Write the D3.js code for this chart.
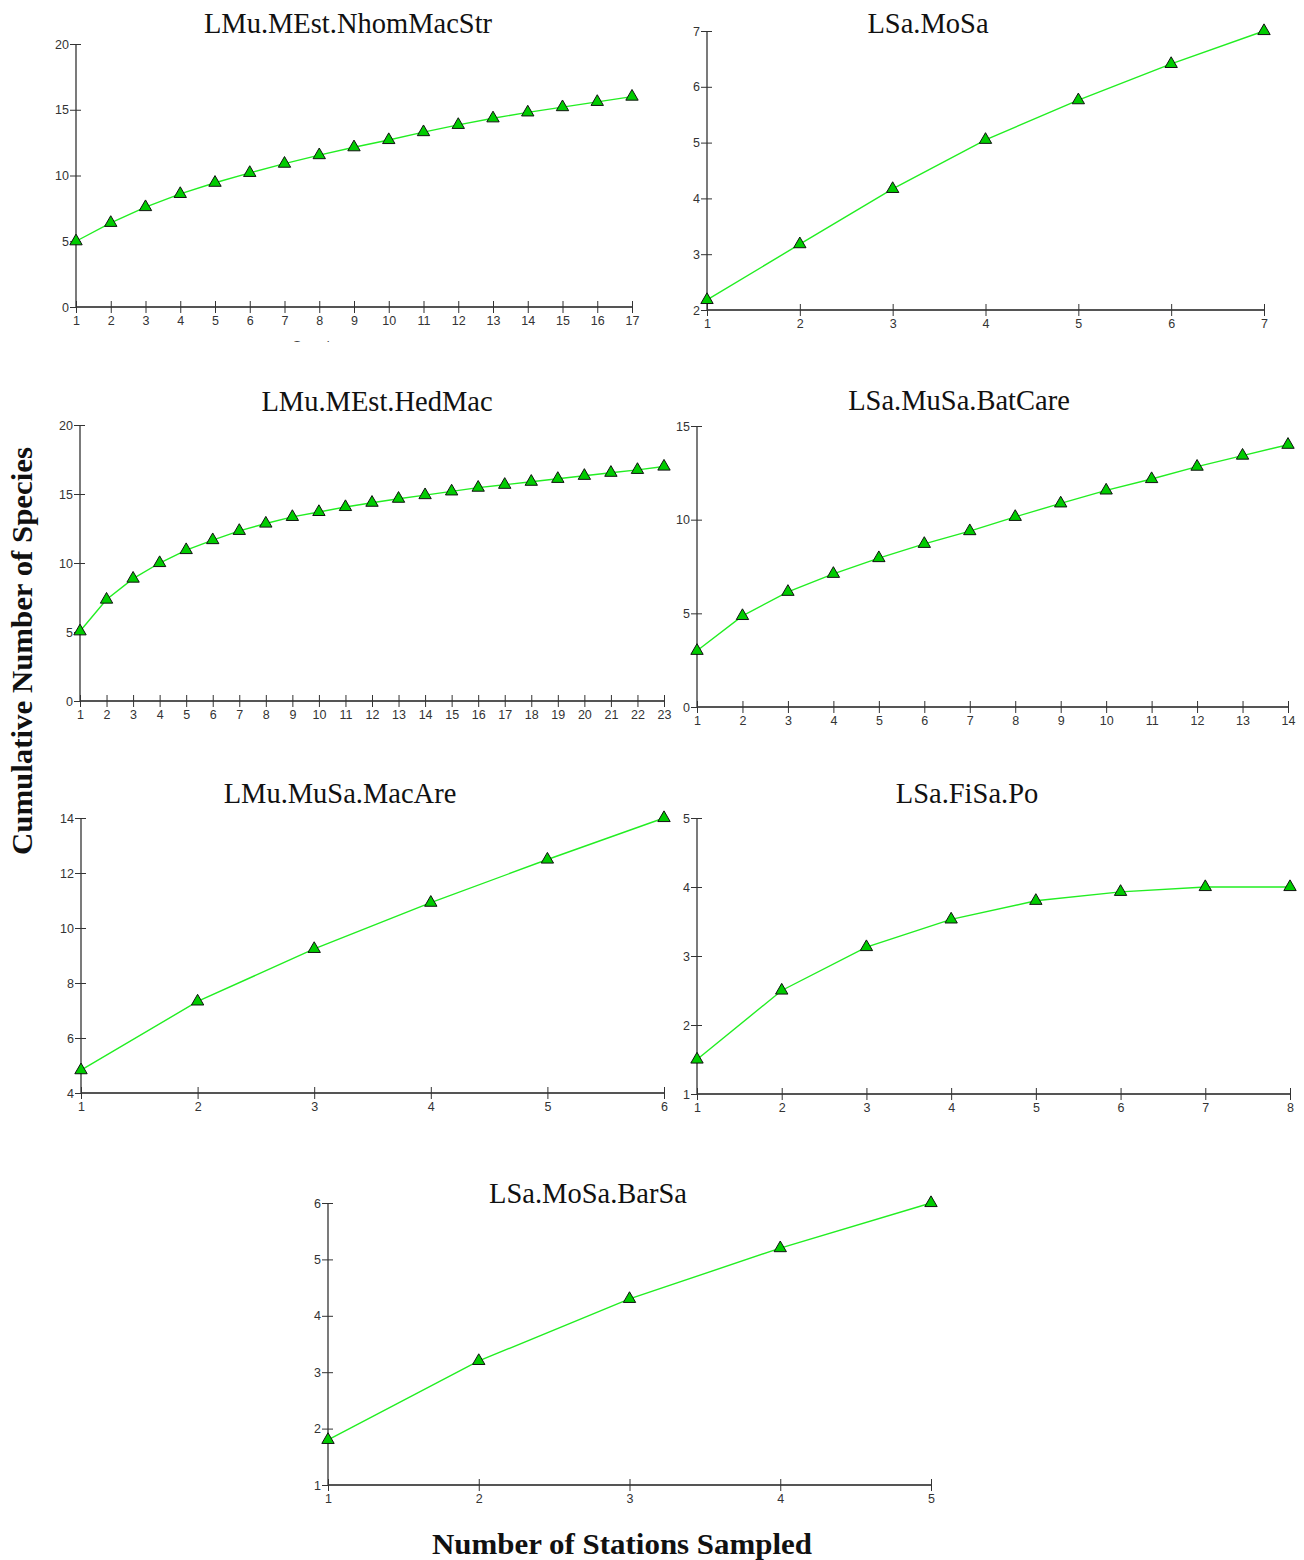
<!DOCTYPE html>
<html><head><meta charset="utf-8">
<script src="https://cdn.jsdelivr.net/npm/d3@7"></script>
<style>
html,body{margin:0;padding:0;background:#fff;}
svg{display:block;}
.tick text{font-family:"Liberation Sans",Arial,sans-serif;font-size:12.5px;fill:#333;}
</style></head>
<body>
<svg id="chart" width="1304" height="1560"></svg>
<script>
// ---- data ----
const titles = ["LMu.MEst.NhomMacStr","LSa.MoSa","LMu.MEst.HedMac","LSa.MuSa.BatCare","LMu.MuSa.MacAre","LSa.FiSa.Po","LSa.MoSa.BarSa"];
const seriesNhomMacStr = [5.0,6.4,7.6,8.6,9.45,10.2,10.9,11.55,12.15,12.7,13.3,13.85,14.35,14.8,15.2,15.6,16.0];
const seriesMoSa = [2.18,3.18,4.17,5.05,5.76,6.41,7.0];
const seriesHedMac = [5.05,7.35,8.87,10.0,10.94,11.66,12.33,12.86,13.34,13.7,14.06,14.37,14.66,14.92,15.19,15.46,15.67,15.89,16.1,16.32,16.54,16.75,16.99];
const seriesBatCare = [3.0,4.86,6.15,7.11,7.95,8.71,9.39,10.15,10.87,11.56,12.17,12.83,13.42,14.0];
const seriesMacAre = [4.83,7.33,9.24,10.92,12.49,14.0];
const seriesFiSaPo = [1.5,2.5,3.13,3.53,3.8,3.93,4.0,4.0];
const seriesBarSa = [1.8,3.2,4.3,5.2,6.0];
const yTicks1 = [0,5,10,15,20];
const yTicks2 = [2,3,4,5,6,7];
const yTicks3 = [0,5,10,15,20];
const yTicks4 = [0,5,10,15];
const yTicks5 = [4,6,8,10,12,14];
const yTicks6 = [1,2,3,4,5];
const yTicks7 = [1,2,3,4,5,6];
const yDomains = [[0,20],[2,7],[0,20],[0,15],[4,14],[1,5],[1,6]];
const xAxisTitle = "Number of Stations Sampled";
const yAxisTitle = "Cumulative Number of Species";

// ---- layout ----
const layout = [
  {l:76, r:632, t:44, b:307, tx:348, ty:33},
  {l:707, r:1264, t:31, b:310, tx:928, ty:33},
  {l:80, r:664, t:425, b:701, tx:377, ty:411},
  {l:697, r:1288, t:426, b:707, tx:959, ty:410},
  {l:81, r:664, t:818, b:1093, tx:340, ty:803},
  {l:697, r:1290, t:818, b:1094, tx:967, ty:803},
  {l:328, r:931, t:1203, b:1485, tx:588, ty:1203}
];
const seriesList = [seriesNhomMacStr,seriesMoSa,seriesHedMac,seriesBatCare,seriesMacAre,seriesFiSaPo,seriesBarSa];
const yTickList = [yTicks1,yTicks2,yTicks3,yTicks4,yTicks5,yTicks6,yTicks7];

const svg = d3.select("#chart");
const tri = d3.symbol().type(d3.symbolTriangle).size(66);

// faint clipped sub-label remnant under first panel
svg.append("clipPath").attr("id","cutS").append("rect").attr("x",250).attr("y",330).attr("width",120).attr("height",12);
svg.append("text").attr("x",318).attr("y",350).attr("text-anchor","middle").attr("clip-path","url(#cutS)")
  .style("font-family","Liberation Sans, Arial, sans-serif").style("font-size","13px").attr("fill","#444").text("Samples");

seriesList.forEach((vals,i)=>{
  const L = layout[i];
  const n = vals.length;
  const xs = d3.range(1,n+1);
  const x = d3.scaleLinear().domain([1,n]).range([L.l,L.r]);
  const y = d3.scaleLinear().domain(yDomains[i]).range([L.b,L.t]);
  const g = svg.append("g");

  // y axis
  const ya = g.append("g").attr("transform",`translate(${L.l},0)`)
    .call(d3.axisLeft(y).tickValues(yTickList[i]).tickSize(6).tickPadding(1).tickFormat(d3.format("d")));
  ya.select(".domain").attr("stroke","#333").attr("stroke-width",1.3).attr("d",`M0,${L.t}V${L.b}`);
  ya.selectAll(".tick line").attr("stroke","#333").attr("x1",5).attr("x2",-6);

  // x axis
  const xa = g.append("g").attr("transform",`translate(0,${L.b})`)
    .call(d3.axisBottom(x).tickValues(xs).tickSize(6).tickPadding(3).tickFormat(d3.format("d")));
  xa.select(".domain").attr("stroke","#555").attr("stroke-width",2).attr("d",`M${L.l},0H${L.r}`);
  xa.selectAll(".tick line").attr("stroke","#333").attr("y1",-6).attr("y2",6);

  // line
  g.append("path").datum(vals)
    .attr("fill","none").attr("stroke","#22ee22").attr("stroke-width",1.4)
    .attr("d", d3.line().x((d,j)=>x(j+1)).y(d=>y(d)));

  // markers
  g.selectAll("path.m").data(vals).enter().append("path").attr("class","m")
    .attr("d",tri)
    .attr("transform",(d,j)=>`translate(${x(j+1)},${y(d)})`)
    .attr("fill","#00cc00").attr("stroke","#111").attr("stroke-width",1);

  // title
  svg.append("text").attr("x",L.tx).attr("y",L.ty).attr("text-anchor","middle")
    .style("font-family","Liberation Serif, Times New Roman, serif").style("font-size","28.5px").attr("fill","#111")
    .text(titles[i]);
});

svg.append("text").attr("x",622).attr("y",1554).attr("text-anchor","middle")
  .attr("textLength",380).attr("lengthAdjust","spacingAndGlyphs")
  .style("font-family","Liberation Serif, serif").style("font-weight","bold").style("font-size","29px").attr("fill","#111")
  .text(xAxisTitle);
svg.append("text").attr("transform","translate(32,651) rotate(-90)").attr("text-anchor","middle")
  .attr("textLength",408).attr("lengthAdjust","spacingAndGlyphs")
  .style("font-family","Liberation Serif, serif").style("font-weight","bold").style("font-size","29px").attr("fill","#111")
  .text(yAxisTitle);
</script>
</body></html>
